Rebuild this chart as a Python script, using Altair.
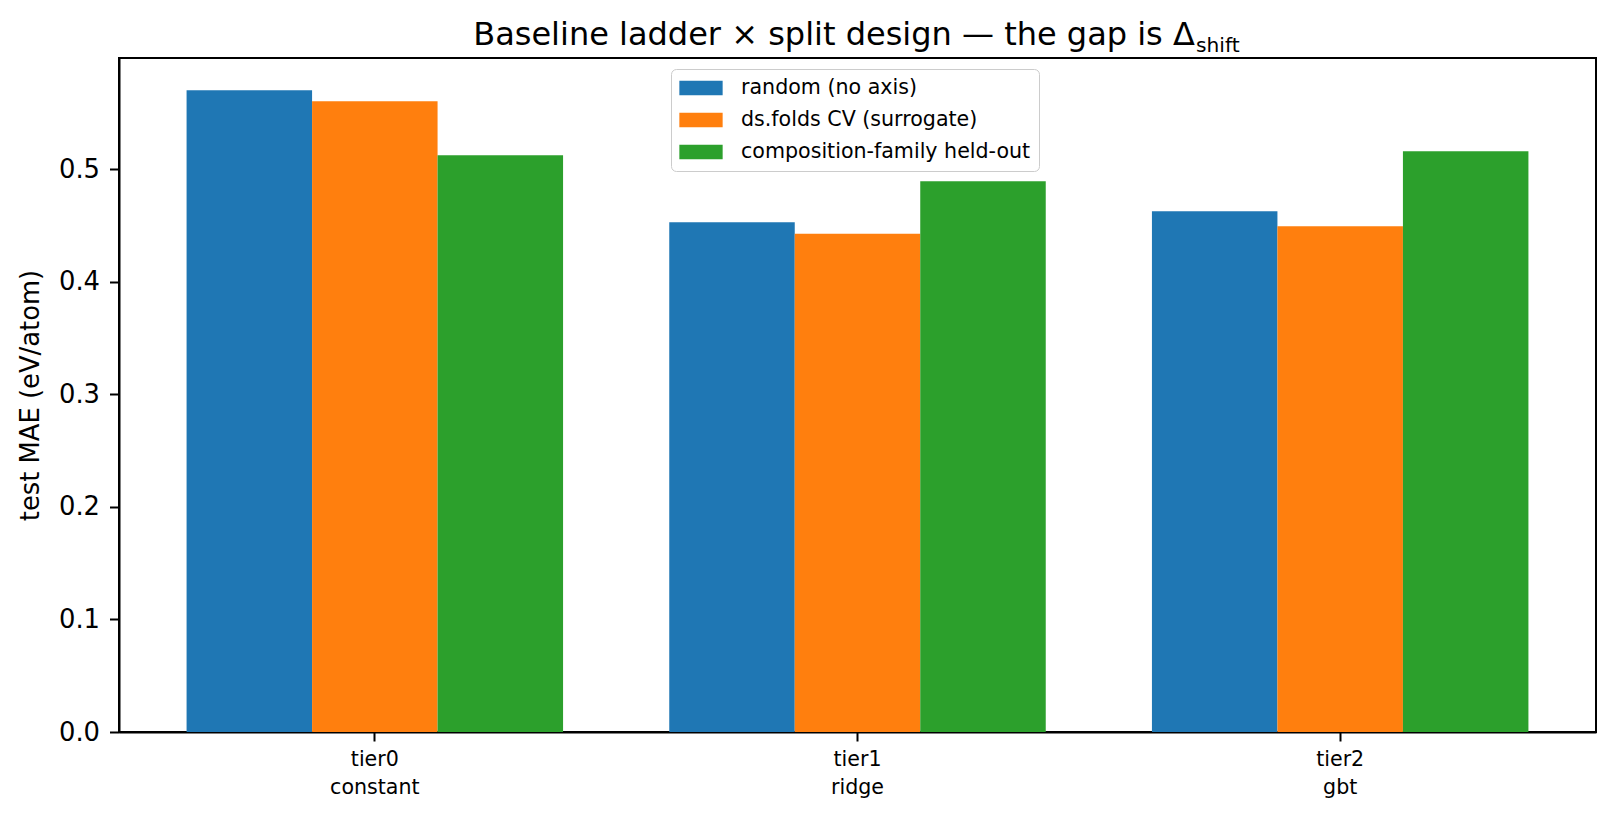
import pandas as pd
import altair as alt

# values
tiers = ["tier0\nconstant", "tier1\nridge", "tier2\ngbt"]
splits = ["random (no axis)", "ds.folds CV (surrogate)", "composition-family held-out"]
colors = ["#1f77b4", "#ff7f0e", "#2ca02c"]

random_mae = [0.5704, 0.4531, 0.4629]
dsfolds_mae = [0.5606, 0.4427, 0.4495]
family_mae = [0.5126, 0.4895, 0.5162]

rows = []
for split, vals in zip(splits, [random_mae, dsfolds_mae, family_mae]):
    for tier, v in zip(tiers, vals):
        rows.append({"tier": tier, "split": split, "mae": v})
df = pd.DataFrame(rows)

FONT = "DejaVu Sans"

bars = alt.Chart(df).mark_bar().encode(
    x=alt.X("tier:N", sort=tiers, title=None,
            scale=alt.Scale(paddingInner=0.22, paddingOuter=0.14),
            axis=alt.Axis(labelExpr="split(datum.label, '\\n')", labelAngle=0,
                          labelFontSize=20.6, labelLineHeight=28, labelPadding=8,
                          tickSize=9, tickWidth=2, labelBaseline="top")),
    xOffset=alt.XOffset("split:N", sort=splits,
                        scale=alt.Scale(paddingInner=0, paddingOuter=0)),
    y=alt.Y("mae:Q", title="test MAE (eV/atom)",
            scale=alt.Scale(domain=[0, 0.599], nice=False, zero=True),
            axis=alt.Axis(values=[0, 0.1, 0.2, 0.3, 0.4, 0.5], format=".1f",
                          labelFontSize=25.8, titleFontSize=25.8, titlePadding=15,
                          tickSize=9.5, tickWidth=2, labelPadding=10)),
    color=alt.Color("split:N", sort=splits, title=None,
                    scale=alt.Scale(domain=splits, range=colors),
                    legend=alt.Legend(orient="none", legendX=552, legendY=11,
                                      symbolType="M-1,-0.33H1V0.33H-1Z", symbolSize=1875,
                                      symbolStrokeWidth=0, labelFontSize=20.6,
                                      clipHeight=22, rowPadding=10,
                                      labelLimit=500, labelOffset=18,
                                      padding=8, fillColor="rgba(255,255,255,0.8)",
                                      strokeColor="#cccccc", cornerRadius=5)),
)

# mathtext subscript of the title
sub = alt.Chart(pd.DataFrame({"t": ["shift"]})).mark_text(
    align="left", baseline="alphabetic", fontSize=20.2, font=FONT, color="black"
).encode(x=alt.value(1077), y=alt.value(-6), text="t:N")

chart = alt.layer(bars, sub).properties(
    width=1477,
    height=674,
    autosize=alt.AutoSizeParams(type="none"),
    padding={"left": 111, "top": 50, "right": 10, "bottom": 80},
    title=alt.TitleParams(text="Baseline ladder × split design — the gap is Δ",
                          fontSize=32, font=FONT, fontWeight="normal",
                          anchor="middle", frame="group", dx=-23.5, dy=41,
                          baseline="alphabetic", offset=0, color="black"),
).configure(font=FONT).configure_view(
    stroke="black", strokeWidth=2
).configure_axis(
    grid=False, domainColor="black", domainWidth=2, tickColor="black",
    labelColor="black", titleColor="black", labelFont=FONT, titleFont=FONT,
    titleFontWeight="normal"
).configure_legend(labelFont=FONT, labelColor="black")

chart.save("out.html", embed_options={"renderer": "svg", "actions": False})
